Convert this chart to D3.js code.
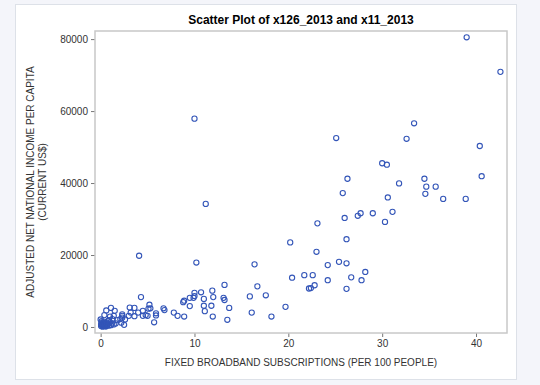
<!DOCTYPE html>
<html lang="en">
<head>
  <meta charset="UTF-8">
  <title>Scatter Plot of x126_2013 and x11_2013</title>
  <script src="https://d3js.org/d3.v7.min.js"></script>
  <style>
    body { margin: 0; background: #f4f5fa; font-family: "Liberation Sans", Arial, sans-serif; }
    svg { display: block; }
    .tick text { fill: #333; font-size: 10px; }
    .axis-label { fill: #333; font-size: 10px; }
  </style>
</head>
<body>
  <svg id="chart" width="540" height="385"></svg>
  <script>
    // x126_2013: fixed broadband subscriptions (per 100 people)
    const broadband = [
      39.0, 42.6, 33.4, 25.1, 32.6, 40.4, 30.0, 30.5, 26.3, 34.5, 40.6, 31.8, 25.8, 34.7, 35.7, 34.6, 30.6, 36.5, 38.9,
      27.7, 27.4, 29.0, 31.1, 26.0, 30.3, 23.1, 26.2, 23.0, 25.4, 26.2, 24.2, 28.2, 21.7, 22.6, 26.7, 24.2, 27.8, 22.8, 22.4, 22.2, 26.2,
      10.0, 11.2, 20.2, 4.1, 10.2, 16.4, 20.4, 13.2, 16.7,
      10.7, 11.9, 10.0, 10.0, 9.9, 9.5, 8.9, 8.8, 11.0, 12.0, 15.9, 17.6, 13.1, 13.2, 13.7, 11.0, 11.1, 11.8, 9.5, 11.95,
      13.5, 19.7, 16.1, 18.2, 8.9, 7.8, 8.2, 6.7, 6.8, 5.9, 5.9, 5.7, 5.2, 5.3, 5.1, 4.8, 5.0, 4.5, 4.3, 4.5,
      4.0, 3.6, 3.1, 3.2, 3.6, 3.0, 2.3, 2.3, 2.1, 2.5, 2.6, 2.3, 2.2, 1.8, 1.5, 1.1, 0.6, 0.4, 1.4, 1.0,
      1.25, 0.9, 0.8, 1.2, 1.1, 0.0,
      0.1, 0.2, 0.3, 0.05, 0.15, 0.4, 0.5, 0.6, 0.2, 0.3, 0.5, 0.7, 0.1, 0.35, 0.8, 0.05, 0.25, 0.45, 0.9, 1.0,
      0.6, 0.15, 1.4, 1.6
    ];
    // x11_2013: adjusted net national income per capita (current US$)
    const income = [
      80500, 70900, 56600, 52500, 52300, 50300, 45500, 45100, 41200, 41200, 41900, 39900, 37200, 39000, 39000, 37000, 36000, 35600, 35600,
      31600, 30900, 31600, 32000, 30300, 29200, 28800, 24400, 20900, 18100, 17700, 17200, 15300, 14400, 14400, 13800, 13000, 13000, 11600, 10800, 10700, 10600,
      57900, 34200, 23500, 19800, 17900, 17400, 13700, 11700, 11300,
      9640, 10100, 9500, 8600, 8100, 8100, 7300, 6900, 7800, 8300, 8500, 8800, 8100, 7500, 5300, 5900, 4400, 5900, 5800, 2900,
      2000, 5600, 4000, 2900, 2900, 4000, 3100, 5200, 4700, 3800, 3200, 1300, 6200, 5200, 5100, 3300, 3100, 3100, 8300, 4500,
      4000, 5300, 5400, 4000, 3000, 3100, 3500, 3100, 2200, 600, 2100, 2600, 1200, 1900, 4500, 5300, 4600, 3300, 3100, 2900,
      2200, 1900, 1700, 1000, 500, 2100,
      1200, 800, 400, 300, 600, 1000, 700, 1300, 100, 900, 200, 500, 1600, 1500, 900, 700, 300, 500, 400, 1300,
      200, 1000, 700, 1000
    ];
    const xTicks = [0, 10, 20, 30, 40];
    const yTicks = [0, 20000, 40000, 60000, 80000];

    const points = broadband.map((b, i) => ({ x: b, y: income[i] }));

    const svg = d3.select('#chart');
    const plot = { left: 95, right: 507, top: 31, bottom: 333 };

    // white panel
    svg.append('rect')
      .attr('x', 15.5).attr('y', 4.5).attr('width', 501).attr('height', 375)
      .attr('fill', '#fff').attr('stroke', '#dde1e8');

    const x = d3.scaleLinear().domain([-0.6, 43.3]).range([plot.left, plot.right]);
    const y = d3.scaleLinear().domain([-1670, 82250]).range([plot.bottom, plot.top]);

    svg.append('text')
      .attr('x', (plot.left + plot.right) / 2).attr('y', 24)
      .attr('text-anchor', 'middle')
      .style('font-size', '12px').style('font-weight', 'bold').style('fill', '#000')
      .text('Scatter Plot of x126_2013 and x11_2013');

    const xAxis = svg.append('g')
      .attr('transform', `translate(0,${plot.bottom})`)
      .call(d3.axisBottom(x).tickValues(xTicks).tickSize(4).tickPadding(3));
    const yAxis = svg.append('g')
      .attr('transform', `translate(${plot.left},0)`)
      .call(d3.axisLeft(y).tickValues(yTicks).tickSize(4).tickPadding(3).tickFormat(d3.format('d')));
    [xAxis, yAxis].forEach(g => {
      g.select('.domain').remove();
      g.selectAll('.tick line').attr('stroke', '#777');
    });

    // frame
    svg.append('rect')
      .attr('x', plot.left).attr('y', plot.top)
      .attr('width', plot.right - plot.left).attr('height', plot.bottom - plot.top)
      .attr('fill', 'none').attr('stroke', '#c8c8c8').attr('stroke-width', 1.5);

    svg.append('text').attr('class', 'axis-label')
      .attr('x', (plot.left + plot.right) / 2).attr('y', 366)
      .attr('text-anchor', 'middle')
      .text('FIXED BROADBAND SUBSCRIPTIONS (PER 100 PEOPLE)');

    const yl = svg.append('text').attr('class', 'axis-label')
      .attr('transform', `translate(34,${(plot.top + plot.bottom) / 2}) rotate(-90)`)
      .attr('text-anchor', 'middle');
    yl.append('tspan').attr('x', 0).attr('dy', 0).text('ADJUSTED NET NATIONAL INCOME PER CAPITA');
    yl.append('tspan').attr('x', 0).attr('dy', 12).text('(CURRENT US$)');

    svg.append('g')
      .selectAll('circle')
      .data(points)
      .join('circle')
      .attr('cx', d => x(d.x))
      .attr('cy', d => y(d.y))
      .attr('r', 2.6)
      .attr('fill', 'none')
      .attr('stroke', '#3355b8')
      .attr('stroke-width', 1.1);
  </script>
</body>
</html>
